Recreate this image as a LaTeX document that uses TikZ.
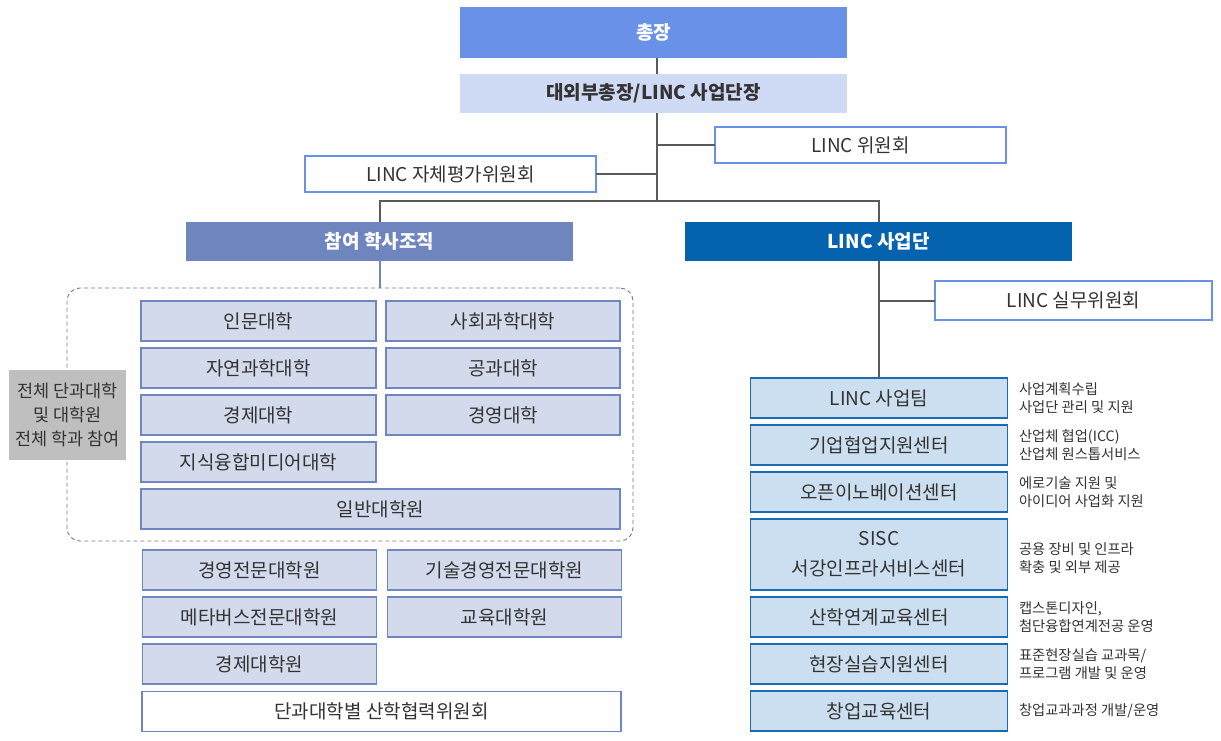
\documentclass[tikz,border=0pt]{standalone}
\usepackage{fontspec}
\setmainfont{Noto Sans CJK KR}
\definecolor{cBoss}{HTML}{6A91E8}
\definecolor{cVp}{HTML}{CFDBF4}
\definecolor{cAcad}{HTML}{6E85BE}
\definecolor{cLinc}{HTML}{0462AE}
\definecolor{cLeftFill}{HTML}{D3DAEC}
\definecolor{cLeftLine}{HTML}{7086C0}
\definecolor{cRightFill}{HTML}{CCDFF0}
\definecolor{cRightLine}{HTML}{1A6BB5}
\definecolor{cCmtLine}{HTML}{6A91E8}
\definecolor{cConn}{HTML}{5A5A5A}
\definecolor{cTxt}{HTML}{333333}
\definecolor{cGray}{HTML}{BFBFBF}
\begin{document}
\begin{tikzpicture}[x=1pt,y=-1pt,
  base/.style={inner sep=0pt,outer sep=0pt,align=center,text=cTxt,font=\fontsize{19}{22}\selectfont},
  headbox/.style={base,font=\bfseries\fontsize{19}{22}\selectfont},
  cmtbox/.style={base,draw=cCmtLine,line width=1.2pt,fill=white},
  leftbox/.style={base,draw=cLeftLine,line width=1.2pt,fill=cLeftFill,minimum height=40},
  rightbox/.style={base,draw=cRightLine,line width=1.4pt,fill=cRightFill,minimum width=257,minimum height=40},
  note/.style={inner sep=0pt,outer sep=0pt,align=left,anchor=west,text=cTxt,font=\fontsize{14.3}{18}\selectfont},
  conn/.style={draw=cConn,line width=2pt},
  bconn/.style={draw=cAcad,line width=2pt},
  grpbox/.style={draw=cConn!80,line width=0.9pt,dash pattern=on 4pt off 3pt,rounded corners=13pt,inner sep=0pt,outer sep=0pt}
]
\useasboundingbox (0,0) rectangle (1221,741);

% top
\node[headbox,fill=cBoss,text=white,minimum width=387,minimum height=51] (boss) at (653.5,32.5) {총장};
\node[headbox,fill=cVp,minimum width=387,minimum height=39] (vp) at (653.5,93.5) {대외부총장/LINC 사업단장};
\node[cmtbox,minimum width=291,minimum height=36] (cmt) at (860.5,145) {LINC 위원회};
\node[cmtbox,minimum width=291,minimum height=36] (self) at (450.5,174) {LINC 자체평가위원회};
\node[headbox,fill=cAcad,text=white,minimum width=387,minimum height=39] (acad) at (379.5,241.5) {참여 학사조직};
\node[headbox,fill=cLinc,text=white,minimum width=387,minimum height=39] (linc) at (878.5,241.5) {LINC 사업단};

\coordinate (tk) at (657,201);
\draw[conn] (tk |- boss.south) -- (tk |- vp.north);
\draw[conn] (tk |- vp.south) -- (tk);
\draw[conn] (tk |- cmt.west) -- (cmt.west);
\draw[conn] (tk |- self.east) -- (self.east);
\draw[conn] (acad.north) -- (acad.north |- tk) -- (linc.north |- tk) -- (linc.north);

% left group
\node[grpbox,minimum width=566,minimum height=253] (grp) at (350,414.5) {};
\draw[bconn] (acad.south) -- (grp.north -| acad.south);
\node[base,fill=cGray,minimum width=117,minimum height=90,font=\fontsize{17.5}{25}\selectfont] (all) at (67.5,415) {전체 단과대학\\[-1pt]및 대학원\\[-1pt]전체 학과 참여};

\node[leftbox,minimum width=235] (l1) at (258.5,321) {인문대학};
\node[leftbox,minimum width=234] (r1) at (503,321) {사회과학대학};
\node[leftbox,minimum width=235] (l2) at (258.5,368) {자연과학대학};
\node[leftbox,minimum width=234] (r2) at (503,368) {공과대학};
\node[leftbox,minimum width=235] (l3) at (258.5,415) {경제대학};
\node[leftbox,minimum width=234] (r3) at (503,415) {경영대학};
\node[leftbox,minimum width=235] (l4) at (258.5,462) {지식융합미디어대학};
\node[leftbox,minimum width=479] (gs) at (380.5,509) {일반대학원};

\node[leftbox,minimum width=234] (p1) at (259.5,570) {경영전문대학원};
\node[leftbox,minimum width=234] (q1) at (504.5,570) {기술경영전문대학원};
\node[leftbox,minimum width=234] (p2) at (259.5,617) {메타버스전문대학원};
\node[leftbox,minimum width=234] (q2) at (504.5,617) {교육대학원};
\node[leftbox,minimum width=234] (p3) at (259.5,664) {경제대학원};
\node[leftbox,fill=white,minimum width=479] (ind) at (381.5,711.5) {단과대학별 산학협력위원회};

% right side
\node[cmtbox,minimum width=277,minimum height=39] (wk) at (1073.5,300.5) {LINC 실무위원회};

\node[rightbox] (t1) at (879,398) {LINC 사업팀};
\node[rightbox] (t2) at (879,445) {기업협업지원센터};
\node[rightbox] (t3) at (879,492) {오픈이노베이션센터};
\node[rightbox,minimum height=71,font=\fontsize{19}{30}\selectfont] (t4) at (879,554.5) {SISC\\서강인프라서비스센터};
\node[rightbox] (t5) at (879,617) {산학연계교육센터};
\node[rightbox] (t6) at (879,664) {현장실습지원센터};
\node[rightbox] (t7) at (879,711) {창업교육센터};

\draw[conn] (linc.south) -- (linc.south |- t1.north);
\draw[conn] (linc.south |- wk.west) -- (wk.west);

\node[note] (n1) at (1019,398) {사업계획수립\\사업단 관리 및 지원};
\node[note] (n2) at (1019,445) {산업체 협업(ICC)\\산업체 원스톱서비스};
\node[note] (n3) at (1019,492) {에로기술 지원 및\\아이디어 사업화 지원};
\node[note] (n4) at (1019,558) {공용 장비 및 인프라\\확충 및 외부 제공};
\node[note] (n5) at (1019,617) {캡스톤디자인,\\첨단융합연계전공 운영};
\node[note] (n6) at (1019,664) {표준현장실습 교과목/\\프로그램 개발 및 운영};
\node[note] (n7) at (1019,711) {창업교과과정 개발/운영};
\end{tikzpicture}
\end{document}
